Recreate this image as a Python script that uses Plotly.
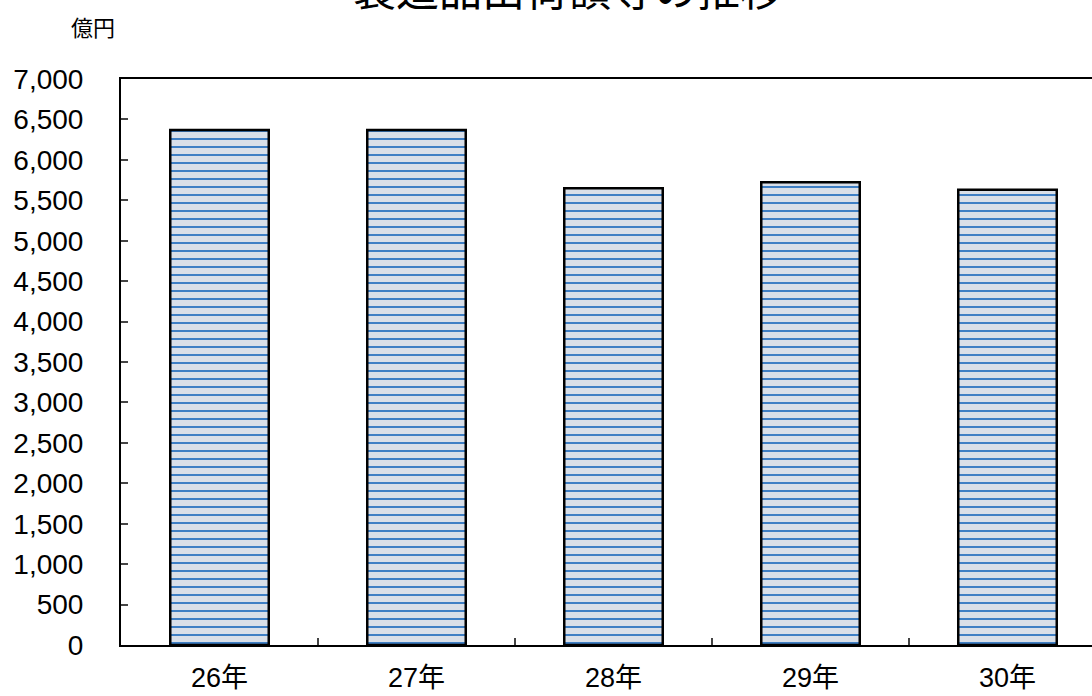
import plotly.graph_objects as go

categories = ["26年", "27年", "28年", "29年", "30年"]
values = [6370, 6370, 5648, 5722, 5631]
y_ticks = list(range(0, 7001, 500))
y_tick_labels = [f"{v:,}" for v in y_ticks]

JP = "Liberation Sans, Arial, Noto Sans CJK JP, sans-serif"

fig = go.Figure()
fig.add_trace(go.Bar(
    x=categories, y=values,
    width=0.5,
    marker=dict(
        color="#D6DCE5",
        line=dict(color="#000000", width=2.5),
        pattern=dict(shape="-", fgcolor="#3F7FC4", bgcolor="#D9DFE8",
                     size=8, solidity=0.25, fillmode="replace"),
    ),
    hoverinfo="x+y",
))

fig.update_layout(
    width=1092, height=696,
    margin=dict(l=121, r=0, t=79, b=51),
    paper_bgcolor="white", plot_bgcolor="white",
    showlegend=False,
    font=dict(family=JP, color="#000000"),
    xaxis=dict(
        type="category",
        range=[-0.5, -0.5 + 971 / 197],
        showline=True, linecolor="#000000", linewidth=2, mirror=True,
        ticks="inside", ticklen=7, tickwidth=1.5, tickcolor="#444444",
        tickson="boundaries",
        showgrid=False, zeroline=False,
        tickfont=dict(size=27, family=JP),
        ticklabelstandoff=8,
        automargin=False,
    ),
    yaxis=dict(
        range=[0, 7000],
        tickvals=y_ticks, ticktext=y_tick_labels,
        showline=True, linecolor="#000000", linewidth=2,
        ticks="inside", ticklen=7, tickwidth=1.5, tickcolor="#444444",
        showgrid=False, zeroline=False,
        tickfont=dict(size=28, family=JP),
        ticklabelstandoff=30,
        automargin=False,
    ),
    annotations=[
        dict(text="製造品出荷額等の推移", xref="paper", yref="paper",
             x=(568 - 121) / 971, y=1 + (79 + 13) / 566,
             xanchor="center", yanchor="middle", showarrow=False,
             font=dict(size=43, family="Noto Sans CJK JP", color="#000000")),
        dict(text="億円", xref="paper", yref="paper",
             x=(69 - 121) / 971, y=1 + (79 - 26) / 566,
             xanchor="left", yanchor="middle", showarrow=False,
             font=dict(size=22, family="Noto Sans CJK JP", color="#000000")),
    ],
)

fig.write_html("out.html")
